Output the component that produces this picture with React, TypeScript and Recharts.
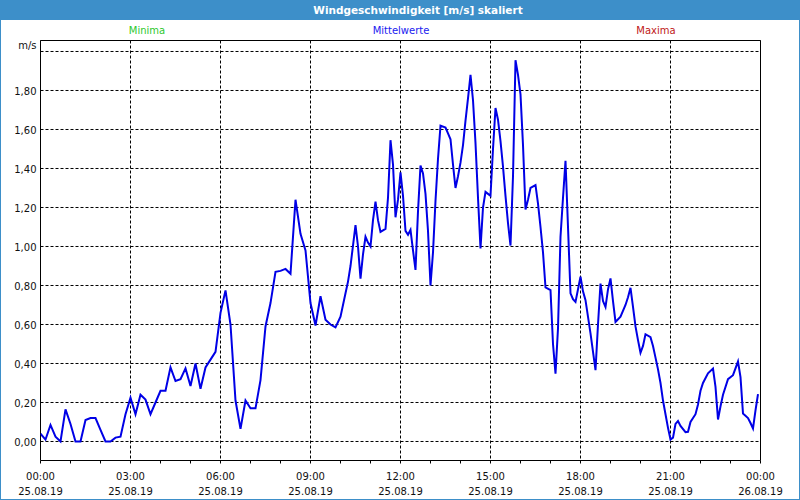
import { LineChart, Line, XAxis, YAxis, CartesianGrid, ReferenceArea } from 'recharts';

// minutes since 25.08.19 00:00
const minutes = [
  0, 10, 20, 30, 40, 50, 60, 70, 80, 90, 100, 110, 120, 130, 140, 150, 160, 170, 180, 190,
  200, 210, 220, 230, 240, 250, 260, 270, 280, 290, 300, 310, 320, 330, 340, 350, 360, 370, 380, 390,
  400, 410, 420, 430, 440, 450, 460, 470, 480, 490, 500, 510, 520, 530, 540, 550, 560, 570, 580, 590,
  600, 610, 615, 620, 630, 635, 640, 645, 650, 655, 660, 665, 670, 675, 680, 690, 695, 700, 705, 710,
  715, 720, 725, 730, 735, 740, 745, 750, 755, 760, 765, 770, 775, 780, 785, 790, 795, 800, 810, 815,
  820, 825, 830, 835, 840, 845, 850, 855, 860, 865, 870, 875, 880, 885, 890, 895, 900, 905, 910, 915,
  920, 925, 930, 935, 940, 945, 950, 955, 960, 965, 970, 975, 980, 990, 995, 1000, 1005, 1010, 1020, 1025,
  1030, 1035, 1040, 1045, 1050, 1055, 1060, 1065, 1070, 1080, 1085, 1090, 1100, 1110, 1115, 1120, 1125, 1130, 1135, 1140,
  1145, 1150, 1160, 1170, 1175, 1180, 1185, 1190, 1195, 1200, 1205, 1210, 1220, 1225, 1230, 1235, 1240, 1245, 1250, 1255,
  1260, 1265, 1270, 1275, 1280, 1290, 1295, 1300, 1310, 1315, 1320, 1325, 1335, 1345, 1350, 1355, 1360, 1365, 1375, 1385,
  1395, 1400, 1405, 1415, 1420, 1425, 1430, 1435,
];

const speed = [
  0.04, 0.01, 0.085, 0.025, 0.0, 0.165, 0.09, 0.0, 0.0, 0.11, 0.12, 0.12, 0.06, 0.0, 0.0, 0.02, 0.025, 0.14, 0.225, 0.14,
  0.24, 0.215, 0.14, 0.2, 0.26, 0.26, 0.38, 0.31, 0.32, 0.375, 0.285, 0.4, 0.27, 0.38, 0.42, 0.46, 0.66, 0.775, 0.6, 0.21,
  0.065, 0.21, 0.17, 0.17, 0.315, 0.59, 0.71, 0.87, 0.875, 0.885, 0.86, 1.24, 1.065, 0.98, 0.71, 0.595, 0.745, 0.625, 0.6, 0.585,
  0.64, 0.76, 0.82, 0.9, 1.11, 1.0, 0.835, 0.96, 1.05, 1.02, 1.0, 1.135, 1.23, 1.135, 1.075, 1.09, 1.25, 1.545, 1.42, 1.15,
  1.24, 1.38, 1.26, 1.08, 1.06, 1.085, 0.98, 0.88, 1.18, 1.415, 1.375, 1.27, 1.08, 0.8, 0.97, 1.235, 1.45, 1.62, 1.61, 1.58,
  1.55, 1.42, 1.3, 1.36, 1.43, 1.52, 1.645, 1.76, 1.88, 1.75, 1.53, 1.25, 0.99, 1.2, 1.28, 1.27, 1.26, 1.5, 1.71, 1.65,
  1.54, 1.41, 1.26, 1.12, 1.005, 1.36, 1.955, 1.88, 1.78, 1.52, 1.19, 1.24, 1.3, 1.315, 1.22, 1.1, 0.97, 0.79, 0.776, 0.5,
  0.348, 0.58, 1.05, 1.25, 1.44, 1.1, 0.76, 0.73, 0.716, 0.845, 0.77, 0.725, 0.554, 0.366, 0.6, 0.81, 0.72, 0.69, 0.78, 0.836,
  0.72, 0.613, 0.64, 0.7, 0.74, 0.788, 0.69, 0.59, 0.52, 0.455, 0.49, 0.55, 0.535, 0.49, 0.43, 0.37, 0.3, 0.21, 0.14, 0.07,
  0.01, 0.02, 0.09, 0.105, 0.08, 0.048, 0.05, 0.1, 0.14, 0.19, 0.26, 0.3, 0.35, 0.374, 0.28, 0.113, 0.18, 0.24, 0.32, 0.34,
  0.41, 0.33, 0.143, 0.12, 0.095, 0.067, 0.16, 0.243,
];

const hourTicks = [0, 60, 120, 180, 240, 300, 360, 420, 480, 540, 600, 660, 720, 780, 840, 900, 960, 1020, 1080, 1140, 1200, 1260, 1320, 1380, 1440];
const majorTicks = [0, 180, 360, 540, 720, 900, 1080, 1260, 1440];
const timeLabels = ['00:00', '03:00', '06:00', '09:00', '12:00', '15:00', '18:00', '21:00', '00:00'];
const dateLabels = ['25.08.19', '25.08.19', '25.08.19', '25.08.19', '25.08.19', '25.08.19', '25.08.19', '25.08.19', '26.08.19'];
const speedTicks = [0, 0.2, 0.4, 0.6, 0.8, 1.0, 1.2, 1.4, 1.6, 1.8, 2.0];

const Y_MIN = -0.09744;
const Y_MAX = 2.05641;
const FONT = '"DejaVu Sans", Verdana, sans-serif';
const BAR = '#3d8fc9';

const data = minutes.map((m, i) => ({ m, v: speed[i] }));

function TimeTick({ x, y, payload }: any) {
  const idx = majorTicks.indexOf(payload.value);
  if (idx < 0) return null;
  return (
    <g>
      <text x={x} y={y + 16} textAnchor="middle" fontSize={10} fontFamily={FONT} fill="#111">{timeLabels[idx]}</text>
      <text x={x} y={y + 31} textAnchor="middle" fontSize={10} fontFamily={FONT} fill="#111">{dateLabels[idx]}</text>
    </g>
  );
}

function SpeedTick({ x, y, payload }: any) {
  const v = payload.value as number;
  const top = Math.abs(v - 2) < 1e-6;
  const label = top ? 'm/s' : v.toFixed(2).replace('.', ',');
  return (
    <text x={x} y={y + (top ? -2 : 4.5)} textAnchor="end" fontSize={10} fontFamily={FONT} fill="#111">{label}</text>
  );
}

export default function App() {
  return (
    <div style={{ position: 'fixed', left: 0, top: 0, width: 800, height: 500, background: '#fff', fontFamily: FONT }}>
      <LineChart width={800} height={500} data={data} margin={{ top: 40.5, right: 39.5, bottom: 0.5, left: 0.5 }}>
        <CartesianGrid stroke="#000" strokeDasharray="3 2" verticalValues={majorTicks} horizontalValues={speedTicks} />
        <XAxis
          dataKey="m"
          type="number"
          domain={[0, 1440]}
          ticks={hourTicks}
          interval={0}
          height={39}
          tickSize={3}
          tickMargin={0}
          axisLine={false}
          tickLine={{ stroke: '#000' }}
          tick={<TimeTick />}
          allowDataOverflow
        />
        <YAxis
          type="number"
          domain={[Y_MIN, Y_MAX]}
          ticks={speedTicks}
          interval={0}
          width={40}
          tickSize={0}
          tickMargin={4}
          axisLine={false}
          tickLine={false}
          tick={<SpeedTick />}
          allowDataOverflow
        />
        <ReferenceArea x1={0} x2={1440} y1={Y_MIN} y2={Y_MAX} stroke="#000" strokeWidth={1} fill="none" fillOpacity={0} />
        <Line type="linear" dataKey="v" stroke="#0000e6" strokeWidth={2} dot={false} isAnimationActive={false} />
      </LineChart>
      <div style={{ position: 'absolute', left: 0, top: 0, width: 800, height: 20, background: BAR, color: '#fff', fontWeight: 'bold', fontSize: 10.5, lineHeight: '20px' }}>
        <span style={{ position: 'absolute', left: 418, top: 0, transform: 'translateX(-50%)', whiteSpace: 'nowrap' }}>Windgeschwindigkeit [m/s] skaliert</span>
      </div>
      <div style={{ position: 'absolute', left: 147, top: 25, transform: 'translateX(-50%)', fontSize: 10, color: '#2ec82e' }}>Minima</div>
      <div style={{ position: 'absolute', left: 401, top: 25, transform: 'translateX(-50%)', fontSize: 10, color: '#2020f0' }}>Mittelwerte</div>
      <div style={{ position: 'absolute', left: 656, top: 25, transform: 'translateX(-50%)', fontSize: 10, color: '#c01818' }}>Maxima</div>
      <div style={{ position: 'absolute', left: 0, top: 20, width: 798, height: 479, borderLeft: `1px solid ${BAR}`, borderRight: `1px solid ${BAR}`, borderBottom: `1px solid ${BAR}`, pointerEvents: 'none' }} />
    </div>
  );
}
